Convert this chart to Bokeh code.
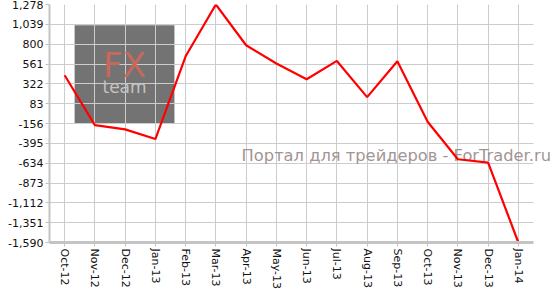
from bokeh.plotting import figure
from bokeh.models import Range1d, FixedTicker, NumeralTickFormatter, BoxAnnotation, Label
from bokeh.embed import file_html
from bokeh.resources import INLINE

months = ["Oct-12", "Nov-12", "Dec-12", "Jan-13", "Feb-13", "Mar-13", "Apr-13", "May-13",
          "Jun-13", "Jul-13", "Aug-13", "Sep-13", "Oct-13", "Nov-13", "Dec-13", "Jan-14"]
values = [426, -175, -227, -343, 654, 1278, 787, 567, 378, 598, 162, 594, -135, -587, -628, -1590]
y_ticks = [-1590, -1351, -1112, -873, -634, -395, -156, 83, 322, 561, 800, 1039, 1278]
watermark = "Портал для трейдеров - ForTrader.ru"

n = len(months)
xs = [i + 0.5 for i in range(n)]
x_end = n + 25 / 30.25  # frame extends past the last category so the watermark is not cut

p = figure(x_range=Range1d(0, x_end), y_range=Range1d(-1590, 1278),
           frame_width=509, frame_height=238, min_border_left=49, min_border_right=0,
           min_border_top=4, min_border_bottom=47, output_backend="svg", toolbar_location=None,
           background_fill_color="white", border_fill_color="white", outline_line_color=None)

p.xaxis.ticker = FixedTicker(ticks=xs)
p.xgrid.ticker = FixedTicker(ticks=xs)
p.xaxis.major_label_overrides = {float(x): m for x, m in zip(xs, months)}
p.xaxis.bounds = (0, n)

p.yaxis.ticker = FixedTicker(ticks=y_ticks)
p.yaxis.formatter = NumeralTickFormatter(format="0,0")
p.ygrid.ticker = FixedTicker(ticks=y_ticks)
for g in (p.xgrid, p.ygrid):
    g.grid_line_color = "#cccccc"
    g.grid_line_width = 1

# logo box (below grid)
p.add_layout(BoxAnnotation(left=0.83, right=4.13, bottom=-152, top=1027, fill_color="#737373",
                           fill_alpha=1.0, line_color=None, level="image"))
# blank margin right of the last category (covers grid)
p.add_layout(BoxAnnotation(left=n, right=x_end + 1, bottom=-5000, top=5000, fill_color="white",
                           fill_alpha=1.0, line_color=None, level="underlay"))
p.add_layout(Label(x=2.48, y=546, text="FX", text_align="center", text_baseline="middle",
                   text_font="DejaVu Sans", text_font_size="34px", text_color="#c8685c",
                   level="underlay"))
p.add_layout(Label(x=2.48, y=282, text="team", text_align="center", text_baseline="middle",
                   text_font="DejaVu Sans", text_font_size="17px", text_color="#c4c4c4",
                   level="underlay"))
p.add_layout(Label(x=6.35, y=-536, text=watermark, text_align="left", text_baseline="middle",
                   text_font="DejaVu Sans", text_font_size="16.3px", text_color="#a39494",
                   level="underlay"))

p.line(x=xs, y=values, line_color="#ff0000", line_width=2.2)

for ax in (p.xaxis, p.yaxis):
    ax.major_label_text_font = "DejaVu Sans"
    ax.major_label_text_font_size = "11px"
    ax.major_label_text_color = "#111111"
    ax.major_tick_in = 0
    ax.major_tick_out = 4
    ax.major_tick_line_color = "#c0c0c0"
    ax.minor_tick_line_color = None
    ax.major_label_standoff = 2
    ax.axis_line_color = "#c4c4c4"

p.yaxis.axis_line_width = 2
p.xaxis.axis_line_width = 3
p.xaxis.major_label_orientation = "vertical"

open("out.html", "w").write(file_html(p, INLINE))
